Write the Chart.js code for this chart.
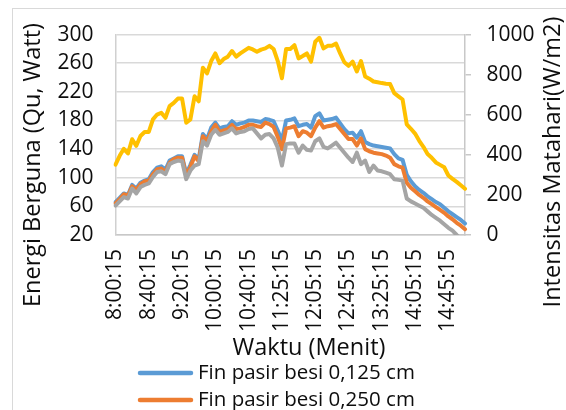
<!DOCTYPE html>
<html>
<head>
<meta charset="utf-8">
<script src="https://cdn.jsdelivr.net/npm/chart.js@4/dist/chart.umd.min.js"></script>
<style>
  html, body { margin: 0; padding: 0; background: #fff; overflow: hidden; }
  #chart { display: block; }
</style>
</head>
<body>
<canvas id="chart" width="566" height="410"></canvas>
<script>
// time of each reading
const waktu = [
  '8:00:15', '8:05:15', '8:10:15', '8:15:15', '8:20:15', '8:25:15', '8:30:15', '8:35:15',
  '8:40:15', '8:45:15', '8:50:15', '8:55:15', '9:00:15', '9:05:15', '9:10:15', '9:15:15',
  '9:20:15', '9:25:15', '9:30:15', '9:35:15', '9:40:15', '9:45:15', '9:50:15', '9:55:15',
  '10:00:15', '10:05:15', '10:10:15', '10:15:15', '10:20:15', '10:25:15', '10:30:15', '10:35:15',
  '10:40:15', '10:45:15', '10:50:15', '10:55:15', '11:00:15', '11:05:15', '11:10:15', '11:20:15',
  '11:25:15', '11:30:15', '11:35:15', '11:40:15', '11:45:15', '11:50:15', '11:55:15', '12:00:15',
  '12:05:15', '12:10:15', '12:15:15', '12:20:15', '12:25:15', '12:30:15', '12:35:15', '12:40:15',
  '12:45:15', '12:50:15', '12:55:15', '13:00:15', '13:05:15', '13:10:15', '13:15:15', '13:20:15',
  '13:25:15', '13:30:15', '13:35:15', '13:40:15', '13:45:15', '13:50:15', '13:55:15', '14:00:15',
  '14:05:15', '14:10:15', '14:15:15', '14:20:15', '14:25:15', '14:30:15', '14:35:15', '14:40:15',
  '14:45:15', '14:50:15', '14:55:15', '15:00:15', '15:05:15'
];
// labels that are printed on the x axis
const tickLabels = ['8:00:15', '8:40:15', '9:20:15', '10:00:15', '10:40:15', '11:25:15',
  '12:05:15', '12:45:15', '13:25:15', '14:05:15', '14:45:15'];

// Qu (Watt)
const fin0125 = [66, 72, 78, 76, 90, 85, 93, 96, 98, 108, 114, 116, 111, 124, 127, 130, 130, 105, 118, 132,
  126, 161, 154, 170, 177, 169, 171, 172, 179, 174, 176, 177, 180, 180, 179, 178, 182, 181, 179, 166,
  152, 180, 181, 183, 172, 174, 175, 170, 186, 190, 180, 181, 182, 184, 176, 168, 162, 163, 156, 165,
  150, 147, 145, 144, 143, 142, 141, 133, 127, 125, 104, 95, 88, 83, 79, 74, 70, 66, 63, 58,
  53, 49, 45, 41, 36];
const fin0250 = [64, 70, 77, 75, 88, 83, 91, 95, 96, 105, 112, 113, 108, 121, 126, 128, 128, 103, 115, 130,
  123, 158, 151, 165, 174, 164, 166, 168, 174, 168, 169, 171, 174, 174, 172, 171, 177, 175, 171, 157,
  140, 169, 170, 172, 158, 165, 163, 158, 170, 179, 170, 172, 173, 175, 168, 161, 154, 154, 145, 155,
  140, 137, 135, 134, 133, 131, 128, 119, 116, 114, 93, 86, 81, 76, 72, 67, 63, 59, 55, 51,
  46, 42, 37, 33, 28];
const fin0375 = [61, 67, 73, 71, 85, 78, 87, 90, 92, 101, 108, 109, 105, 119, 122, 124, 123, 98, 110, 117,
  119, 151, 145, 160, 167, 160, 162, 164, 169, 162, 164, 165, 168, 169, 162, 155, 160, 161, 155, 142,
  117, 147, 148, 148, 135, 145, 139, 138, 151, 155, 143, 141, 145, 149, 142, 135, 128, 122, 135, 119,
  124, 108, 117, 110, 109, 107, 105, 98, 97, 96, 71, 67, 64, 61, 58, 53, 48, 44, 40, 35,
  30, 26, 20, 15, 10];
// solar intensity (W/m2), right axis
const intensitas = [351, 395, 430, 407, 478, 445, 494, 514, 514, 577, 601, 610, 585, 643, 659, 681, 681, 560, 577, 692,
  667, 835, 807, 868, 906, 857, 878, 890, 918, 890, 906, 920, 934, 926, 914, 925, 931, 944, 928, 868,
  782, 928, 928, 947, 881, 893, 906, 865, 964, 984, 931, 944, 944, 955, 906, 862, 844, 865, 816, 868,
  791, 780, 766, 762, 758, 755, 753, 708, 692, 676, 552, 530, 506, 470, 440, 404, 385, 362, 350, 338,
  297, 280, 265, 248, 231];

const FONT = "'Open Sans'";
Chart.defaults.font.family = FONT;
Chart.defaults.font.size = 21;
Chart.defaults.color = '#0d0d0d';

function serie(label, data, color, axis, order) {
  return {
    label: label,
    data: data,
    yAxisID: axis,
    borderColor: color,
    backgroundColor: color,
    borderWidth: 4,
    pointRadius: 0,
    tension: 0,
    borderCapStyle: 'round',
    borderJoinStyle: 'round',
    clip: { left: 2, top: 4, right: 3, bottom: 0 },
    order: order
  };
}

// frame, axis titles and the stacked legend
const decor = {
  id: 'decor',
  beforeDraw(chart) {
    const c = chart.ctx;
    c.save();
    c.fillStyle = '#fff';
    c.fillRect(0, 0, chart.width, chart.height);
    c.strokeStyle = '#d9d9d9';
    c.lineWidth = 1;
    c.strokeRect(12.5, 8.5, chart.width, chart.height);
    c.restore();
  },
  afterDraw(chart) {
    const c = chart.ctx;
    c.save();
    c.fillStyle = '#0d0d0d';
    c.textBaseline = 'middle';
    c.textAlign = 'center';
    c.font = "23.5px " + FONT;
    c.fillText('Waktu (Menit)', 309, 348);
    c.save();
    c.translate(33, 165);
    c.rotate(-Math.PI / 2);
    c.fillText('Energi Berguna (Qu, Watt)', 0, 0);
    c.restore();
    c.save();
    c.translate(553, 162);
    c.rotate(-Math.PI / 2);
    c.fillText('Intensitas Matahari(W/m2)', 0, 0);
    c.restore();

    c.font = "20.5px " + FONT;
    c.textAlign = 'left';
    chart.data.datasets.forEach(function (ds, i) {
      const y = 373 + i * 27;
      c.strokeStyle = ds.borderColor;
      c.lineWidth = 4.5;
      c.lineCap = 'round';
      c.beginPath();
      c.moveTo(140, y);
      c.lineTo(191, y);
      c.stroke();
      c.fillText(ds.label, 198, y);
    });
    c.restore();
  }
};

const config = {
  type: 'line',
  data: {
    labels: waktu,
    datasets: [
      serie('Fin pasir besi 0,125 cm', fin0125, '#5B9BD5', 'y', 4),
      serie('Fin pasir besi 0,250 cm', fin0250, '#ED7D31', 'y', 3),
      serie('Fin pasir besi 0,375 cm', fin0375, '#A5A5A5', 'y', 2),
      serie('Intensitas Matahari', intensitas, '#FFC000', 'y2', 1)
    ]
  },
  options: {
    responsive: false,
    animation: false,
    devicePixelRatio: 1,
    layout: { padding: { top: 32.7, left: 0, right: 0, bottom: 0 } },
    plugins: {
      legend: { display: false },
      tooltip: { enabled: false }
    },
    scales: {
      x: {
        offset: false,
        grid: { display: false, drawTicks: false },
        border: { display: true, color: '#c8c8c8', width: 1.5 },
        ticks: {
          autoSkip: false,
          minRotation: 90,
          maxRotation: 90,
          padding: 14,
          callback: function (value) {
            const lab = this.getLabelForValue(value);
            return tickLabels.includes(lab) ? lab : '';
          }
        },
        afterFit: function (s) { s.height = 175; }
      },
      y: {
        position: 'left',
        min: 20,
        max: 300,
        grid: { color: '#d9d9d9', lineWidth: 1.5, drawTicks: false },
        border: { display: true, color: '#d0d0d0', width: 1.5 },
        ticks: { stepSize: 40, padding: 22, callback: function (v) { return String(v); } },
        afterFit: function (s) { s.width = 115.5; }
      },
      y2: {
        position: 'right',
        min: 0,
        max: 1000,
        grid: { drawOnChartArea: false, drawTicks: true, tickLength: 6, color: '#c8c8c8', lineWidth: 1.5 },
        border: { display: true, color: '#c8c8c8', width: 1.5 },
        ticks: { stepSize: 200, padding: 15.5, callback: function (v) { return String(v); } },
        afterFit: function (s) { s.width = 101; }
      }
    }
  },
  plugins: [decor]
};

var chart = new Chart(document.getElementById('chart'), config);
</script>
</body>
</html>
